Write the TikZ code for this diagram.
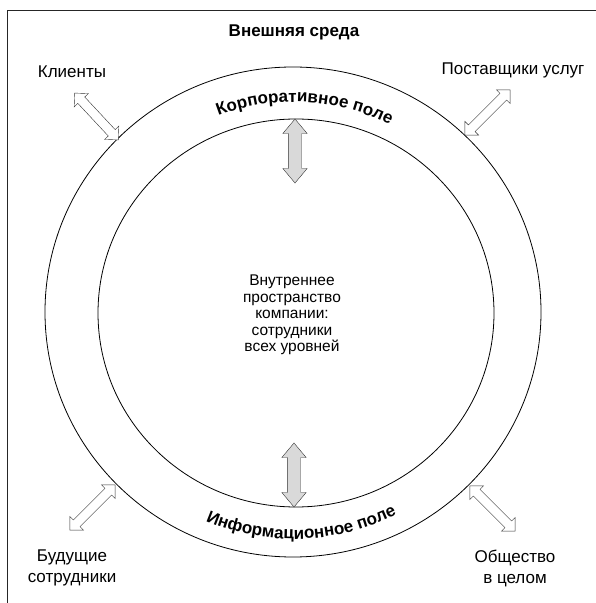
\documentclass[tikz,border=0pt]{standalone}
\usepackage{fontspec}
\setmainfont{Liberation Sans}
\usetikzlibrary{shapes.arrows,decorations.text}
\begin{document}
\begin{tikzpicture}[x=1pt,y=1pt,
  lbl/.style={font=\fontsize{17}{21}\selectfont,align=center},
  bigarrow/.style={double arrow,draw=black!80,fill=black!15,minimum width=0pt,
    minimum height=64pt,inner xsep=0pt,inner ysep=6.5pt,
    double arrow head extend=5.5pt,double arrow tip angle=80},
  smallarrow/.style={double arrow,draw=black!80,fill=white,minimum width=0pt,
    minimum height=64pt,inner xsep=0pt,inner ysep=4.5pt,
    double arrow head extend=5pt}]
\useasboundingbox (0,0) rectangle (596,603);
\draw[black!85,line width=.8pt] (7,0) -- (7,593) -- (596,593);
% two rings
\draw[line width=.8pt] (293,291) ellipse (248 and 245);
\draw[line width=.8pt] (296,290) ellipse (198 and 194);
\path[decorate,decoration={text along path,text align=center,
  text={|\bfseries\fontsize{17}{17}\selectfont|Корпоративное поле}}]
  (294,290) ++(147:211) arc[start angle=147,end angle=27,radius=211];
\path[decorate,decoration={text along path,text align=center,
  text={|\bfseries\fontsize{17}{17}\selectfont|Информационное поле}}]
  (294,290) ++(212:226) arc[start angle=212,end angle=332,radius=226];
% labels
\node[lbl,font=\bfseries\fontsize{17}{21}\selectfont] (outer) at (294,571) {Внешняя среда};
\node[lbl] (clients) at (72,531) {Клиенты};
\node[lbl] (suppliers) at (513,533) {Поставщики услуг};
\node[lbl] (future) at (72,35) {Будущие\\сотрудники};
\node[lbl] (society) at (515,35) {Общество\\в целом};
\node[lbl,font=\fontsize{15.5}{16.5}\selectfont] (inner) at (292,288) {Внутреннее\\пространство\\компании:\\сотрудники\\всех уровней};
% arrows
\node[bigarrow,rotate=90] (topArrow) at (295,452) {};
\node[bigarrow,rotate=90] (bottomArrow) at (294,128) {};
\node[smallarrow,rotate=-47] (clientsArrow) at (96.5,486.5) {};
\node[smallarrow,rotate=45] (suppliersArrow) at (487.5,490.5) {};
\node[smallarrow,rotate=45] (futureArrow) at (92.5,95.5) {};
\node[smallarrow,rotate=-45] (societyArrow) at (492.5,94.5) {};
\end{tikzpicture}
\end{document}
